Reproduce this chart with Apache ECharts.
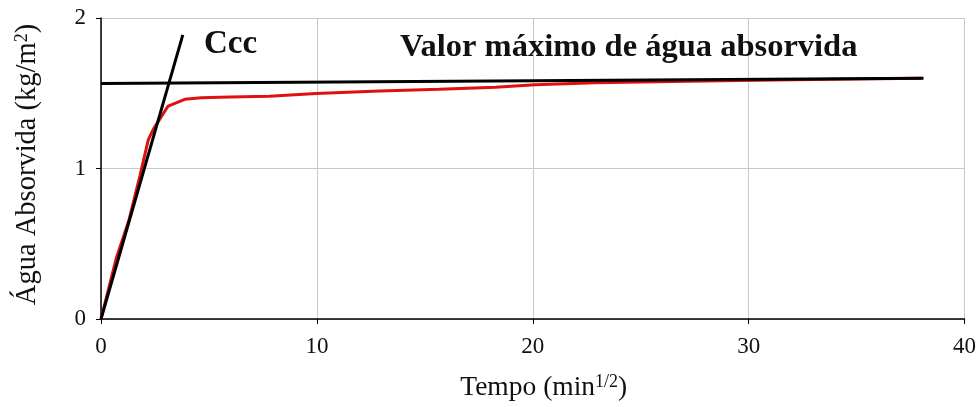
<!DOCTYPE html>
<html>
<head>
<meta charset="utf-8">
<script src="https://cdn.jsdelivr.net/npm/echarts@6/dist/echarts.min.js"></script>
<style>html,body{margin:0;padding:0;background:#fff;}#c{width:979px;height:407px;}</style>
</head>
<body>
<div id="c"></div>
<script>
// Absorption curve (red): [time (min^1/2), absorbed water (kg/m2)]
const absorptionCurve = [
  [0, 0], [0.7, 0.40], [1.3, 0.66], [1.8, 0.95], [2.19, 1.19], [2.42, 1.26],
  [3.11, 1.415], [3.88, 1.46], [4.65, 1.47], [5.96, 1.475], [7.8, 1.48],
  [9.96, 1.498], [12.9, 1.515], [15.66, 1.527], [18.28, 1.54], [20.1, 1.556],
  [22.9, 1.569], [27.2, 1.58], [32, 1.59], [38, 1.60]
];
// Tangent to initial slope (Ccc)
const tangentLine = [[0, 0], [3.79, 1.888]];
// Maximum absorbed water line
const maxLine = [[0, 1.565], [38.1, 1.60]];
const xTicks = { min: 0, max: 40, interval: 10 };
const yTicks = { min: 0, max: 2, interval: 1 };
const labelCcc = 'Ccc';
const labelMax = 'Valor máximo de água absorvida';

const serif = "'Liberation Serif', 'Times New Roman', serif";
const chart = echarts.init(document.getElementById('c'), null, { renderer: 'canvas' });
chart.setOption({
  animation: false,
  backgroundColor: '#fff',
  grid: { left: 101, right: 12, top: 18, bottom: 86, containLabel: false },
  xAxis: {
    type: 'value', min: xTicks.min, max: xTicks.max, interval: xTicks.interval,
    name: '{a|Tempo (min}{s|1/2}{a|)}',
    nameLocation: 'middle', nameGap: 54,
    nameTextStyle: {
      padding: [0, 0, 0, 22],
      rich: {
        a: { fontFamily: serif, fontSize: 27.5, color: '#111', lineHeight: 30, verticalAlign: 'middle' },
        s: { fontFamily: serif, fontSize: 18, color: '#111', lineHeight: 22, verticalAlign: 'top' }
      }
    },
    axisLine: { lineStyle: { color: '#000', width: 1.5 } },
    axisTick: { show: true, inside: false, length: 5, lineStyle: { color: '#000', width: 1 } },
    axisLabel: { fontFamily: serif, fontSize: 23, color: '#111', margin: 16 },
    splitLine: { show: true, lineStyle: { color: '#c8c8c8', width: 1 } }
  },
  yAxis: {
    type: 'value', min: yTicks.min, max: yTicks.max, interval: yTicks.interval,
    name: '{a|Água Absorvida (kg/m}{s|2}{a|)}',
    nameLocation: 'middle', nameGap: 58, nameRotate: 90,
    nameTextStyle: {
      padding: [0, 0, 0, 8],
      rich: {
        a: { fontFamily: serif, fontSize: 28.5, color: '#111', lineHeight: 30, verticalAlign: 'middle' },
        s: { fontFamily: serif, fontSize: 18, color: '#111', lineHeight: 22, verticalAlign: 'top' }
      }
    },
    axisLine: { show: true, lineStyle: { color: '#000', width: 1.5 } },
    axisTick: { show: true, inside: false, length: 5, lineStyle: { color: '#000', width: 1 } },
    axisLabel: { fontFamily: serif, fontSize: 23, color: '#111', margin: 15 },
    splitLine: { show: true, lineStyle: { color: '#c8c8c8', width: 1 } }
  },
  series: [
    {
      type: 'line', data: absorptionCurve, showSymbol: false, z: 2,
      lineStyle: { color: '#e01010', width: 3 }
    },
    {
      type: 'line', data: tangentLine, showSymbol: false, z: 3,
      lineStyle: { color: '#000', width: 3 }
    },
    {
      type: 'line', data: maxLine, showSymbol: false, z: 3,
      lineStyle: { color: '#000', width: 3 }
    }
  ],
  graphic: [
    { type: 'text', left: 204, top: 28, z: 10,
      style: { text: labelCcc, font: "bold 33px " + serif, fill: '#111' } },
    { type: 'text', left: 400, top: 31, z: 10,
      style: { text: labelMax, font: "bold 32.5px " + serif, fill: '#111' } }
  ]
});
</script>
</body>
</html>
